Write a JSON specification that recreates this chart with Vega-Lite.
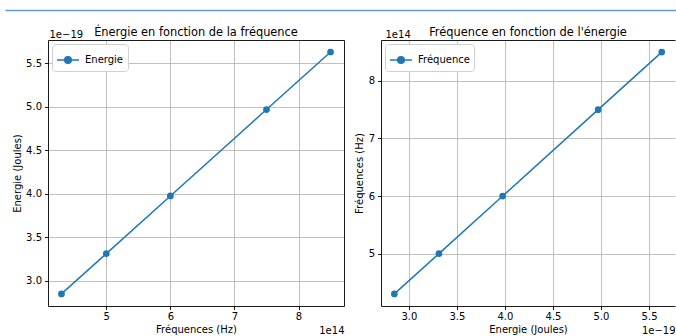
{
  "$schema": "https://vega.github.io/schema/vega-lite/v6.json",
  "padding": {"left": 12, "top": 10, "right": 0, "bottom": 0},
  "datasets": {
    "pts": [
      {"frequence": 4.3e14, "energie": 2.849e-19},
      {"frequence": 5.0e14, "energie": 3.313e-19},
      {"frequence": 6.0e14, "energie": 3.976e-19},
      {"frequence": 7.5e14, "energie": 4.970e-19},
      {"frequence": 8.5e14, "energie": 5.632e-19}
    ]
  },
  "config": {
    "font": "DejaVu Sans",
    "view": {"stroke": null},
    "axis": {
      "labelFont": "DejaVu Sans", "titleFont": "DejaVu Sans",
      "labelFontSize": 10, "titleFontSize": 10, "titleFontWeight": "normal",
      "labelColor": "#000", "titleColor": "#000", "tickColor": "#000", "domainColor": "#000",
      "tickSize": 3.5, "labelPadding": 3, "domainWidth": 0.9, "tickWidth": 0.9,
      "gridColor": "#b0b0b0", "gridWidth": 0.8, "titlePadding": 3
    },
    "axisX": {"titlePadding": 3, "labelPadding": 2},
    "title": {"fontSize": 11.4, "fontWeight": "normal", "color": "#000", "frame": "group", "offset": -9, "anchor": "middle", "font": "DejaVu Sans"},
    "legend": {
      "title": null, "orient": "top-left", "offset": 4, "labelFontSize": 10, "labelColor": "#000",
      "strokeColor": "#d0d0d0", "fillColor": "white", "padding": 4, "cornerRadius": 3,
      "symbolSize": 484, "symbolType": "M-1,0H1M-0.3,0A0.3,0.3,0,1,0,0.3,0A0.3,0.3,0,1,0,-0.3,0",
      "symbolStrokeWidth": 1.5, "labelOffset": 5
    }
  },
  "spacing": 15,
  "vconcat": [
    {
      "width": 628, "height": 1,
      "data": {"values": []},
      "mark": {"type": "rule", "opacity": 0},
      "encoding": {
        "x": {"field": "a", "type": "quantitative",
          "scale": {"domain": [0, 1], "range": [-43, 628], "nice": false, "zero": false},
          "axis": {"orient": "top", "labels": false, "ticks": false, "grid": false, "title": null,
            "domain": true, "domainColor": "#5b9bd6", "domainWidth": 1.5}}
      }
    },
    {
      "spacing": 10,
      "resolve": {"scale": {"x": "independent", "y": "independent", "color": "independent"}, "legend": {"color": "independent"}},
      "hconcat": [
        {
          "width": 296, "height": 266,
          "title": "Énergie en fonction de la fréquence",
          "data": {"name": "pts"},
          "resolve": {"axis": {"x": "independent", "y": "independent"}},
          "layer": [
            {
              "mark": {"type": "line", "strokeWidth": 1.5, "point": {"filled": true, "size": 45, "opacity": 1}},
              "encoding": {
                "x": {"field": "frequence", "type": "quantitative",
                  "scale": {"domain": [4.09e14, 8.71e14], "nice": false, "zero": false},
                  "axis": {"title": "Fréquences (Hz)", "values": [5e14, 6e14, 7e14, 8e14], "labelExpr": "format(datum.value/1e14, '.0f')", "grid": true}},
                "y": {"field": "energie", "type": "quantitative",
                  "scale": {"domain": [2.71e-19, 5.77e-19], "nice": false, "zero": false},
                  "axis": {"title": "Energie (Joules)", "values": [3e-19, 3.5e-19, 4e-19, 4.5e-19, 5e-19, 5.5e-19], "labelExpr": "format(datum.value/1e-19, '.1f')", "grid": true}},
                "color": {"datum": "Energie", "scale": {"range": ["#1f77b4"]},
                  "legend": {"encode": {"symbols": {"update": {"fill": {"value": "#1f77b4"}, "stroke": {"value": "#1f77b4"}, "strokeWidth": {"value": 1.5}}}}}}
              }
            },
            {
              "mark": {"type": "point", "opacity": 0},
              "encoding": {
                "x": {"field": "frequence", "type": "quantitative",
                  "scale": {"domain": [4.09e14, 8.71e14], "nice": false, "zero": false},
                  "axis": {"orient": "top", "title": "1e−19", "labels": false, "ticks": false, "grid": false, "domain": true,
                    "titleX": 1, "titleY": -3, "titleAlign": "left", "titleBaseline": "alphabetic", "titleAngle": 0}},
                "y": {"field": "energie", "type": "quantitative",
                  "scale": {"domain": [2.71e-19, 5.77e-19], "nice": false, "zero": false},
                  "axis": {"orient": "right", "title": "1e14", "labels": false, "ticks": false, "grid": false, "domain": true,
                    "titleX": 0, "titleY": 293, "titleAlign": "right", "titleBaseline": "alphabetic", "titleAngle": 0}}
              }
            }
          ]
        },
        {
          "width": 294, "height": 266,
          "title": "Fréquence en fonction de l'énergie",
          "data": {"name": "pts"},
          "resolve": {"axis": {"x": "independent", "y": "independent"}},
          "layer": [
            {
              "mark": {"type": "line", "strokeWidth": 1.5, "point": {"filled": true, "size": 45, "opacity": 1}},
              "encoding": {
                "x": {"field": "energie", "type": "quantitative",
                  "scale": {"domain": [2.71e-19, 5.77e-19], "nice": false, "zero": false},
                  "axis": {"title": "Energie (Joules)", "values": [3e-19, 3.5e-19, 4e-19, 4.5e-19, 5e-19, 5.5e-19], "labelExpr": "format(datum.value/1e-19, '.1f')", "grid": true}},
                "y": {"field": "frequence", "type": "quantitative",
                  "scale": {"domain": [4.09e14, 8.71e14], "nice": false, "zero": false},
                  "axis": {"title": "Fréquences (Hz)", "values": [5e14, 6e14, 7e14, 8e14], "labelExpr": "format(datum.value/1e14, '.0f')", "grid": true, "titlePadding": 4}},
                "color": {"datum": "Fréquence", "scale": {"range": ["#1f77b4"]},
                  "legend": {"encode": {"symbols": {"update": {"fill": {"value": "#1f77b4"}, "stroke": {"value": "#1f77b4"}, "strokeWidth": {"value": 1.5}}}}}}
              }
            },
            {
              "mark": {"type": "point", "opacity": 0},
              "encoding": {
                "x": {"field": "energie", "type": "quantitative",
                  "scale": {"domain": [2.71e-19, 5.77e-19], "nice": false, "zero": false},
                  "axis": {"orient": "top", "title": "1e14", "labels": false, "ticks": false, "grid": false, "domain": true,
                    "titleX": 4, "titleY": -3, "titleAlign": "left", "titleBaseline": "alphabetic", "titleAngle": 0}},
                "y": {"field": "frequence", "type": "quantitative",
                  "scale": {"domain": [4.09e14, 8.71e14], "nice": false, "zero": false},
                  "axis": {"orient": "right", "title": "1e−19", "labels": false, "ticks": false, "grid": false, "domain": false,
                    "titleX": 0, "titleY": 293, "titleAlign": "right", "titleBaseline": "alphabetic", "titleAngle": 0}}
              }
            }
          ]
        }
      ]
    }
  ]
}
